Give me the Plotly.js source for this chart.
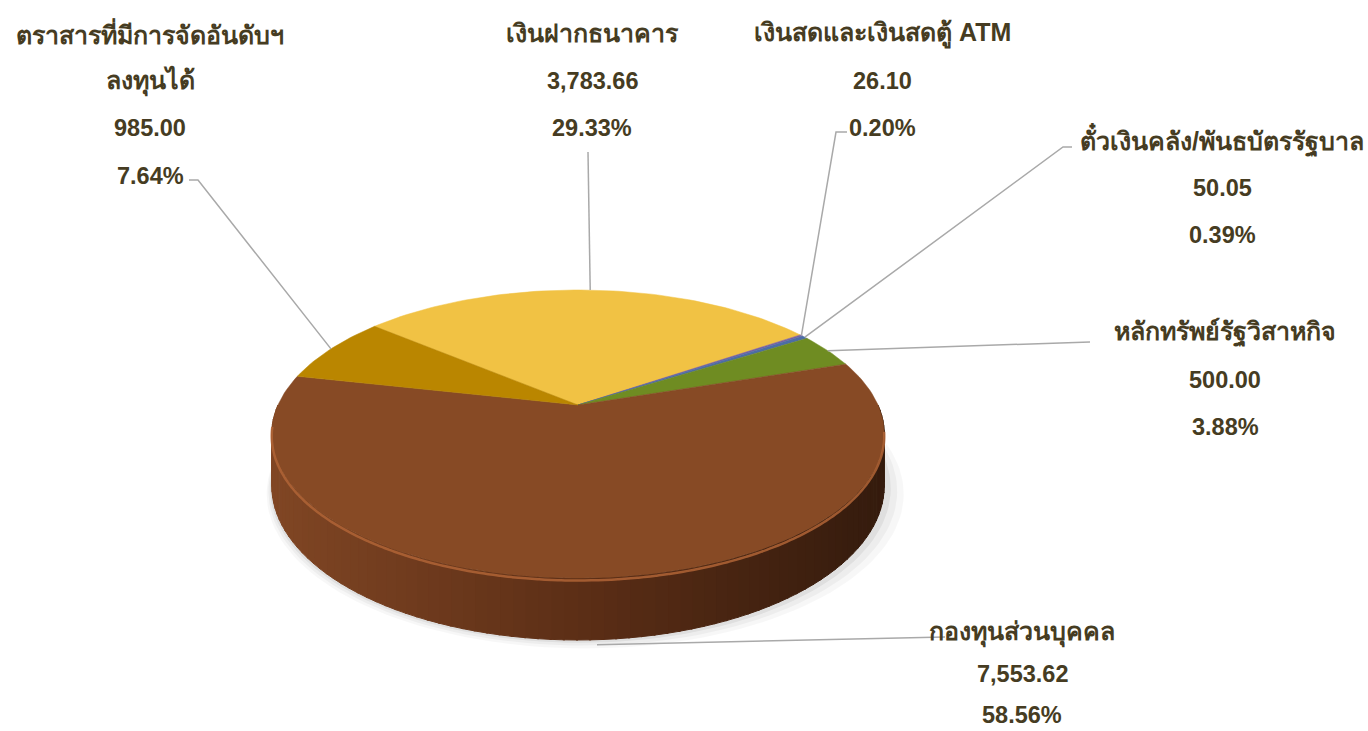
<!DOCTYPE html>
<html>
<head>
<meta charset="utf-8">
<script src="https://cdn.plot.ly/plotly-3.0.1.min.js"></script>
<style>
html,body{margin:0;padding:0;background:#ffffff;}
#chart{width:1368px;height:731px;}
</style>
</head>
<body>
<div id="chart"></div>
<script>
// ---------- DATA ----------
const categories = [
  'เงินฝากธนาคาร',
  'เงินสดและเงินสดตู้ ATM',
  'ตั๋วเงินคลัง/พันธบัตรรัฐบาล',
  'หลักทรัพย์รัฐวิสาหกิจ',
  'กองทุนส่วนบุคคล',
  'ตราสารที่มีการจัดอันดับฯ ลงทุนได้'
];
const nameLines = [
  ['เงินฝากธนาคาร'],
  ['เงินสดและเงินสดตู้ ATM'],
  ['ตั๋วเงินคลัง/พันธบัตรรัฐบาล'],
  ['หลักทรัพย์รัฐวิสาหกิจ'],
  ['กองทุนส่วนบุคคล'],
  ['ตราสารที่มีการจัดอันดับฯ', 'ลงทุนได้']
];
const values = [3783.66, 26.10, 50.05, 500.00, 7553.62, 985.00];

// ---------- STYLE / LAYOUT ----------
const sliceColors = ['#F1C244', '#7A62A0', '#4D6DA6', '#6F8C22', '#874A25', '#BA8600'];
// label block: centre x, first line y, line gap, text-side leader anchor points
const labelPos = [
  {x: 592,  y: 33,  gap: 47.5, lead: [[588, 152]]},
  {x: 882,  y: 33,  gap: 47.5, lead: [[847, 132], [836, 132]]},
  {x: 1222, y: 140, gap: 47.5, lead: [[1072, 147], [1063, 147]]},
  {x: 1225, y: 332, gap: 47.5, lead: [[1090, 342]]},
  {x: 1022, y: 632, gap: 41.5, lead: [[945, 637]]},
  {x: 150,  y: 33,  gap: 47.5, lead: [[189, 180], [198, 180]]}
];
const textColor = '#463C22';
const fontFam = '"Liberation Sans", Arial, "DejaVu Sans", "Noto Sans", sans-serif';
const nameSize = 25, numSize = 23.5;

// pie geometry (pixel space)
const CX = 578, CY = 405, A = 300, B = 138.2, K = 0.2013, DZ = 49.5, START = -50;

function proj(theta, depth) {
  const r = theta * Math.PI / 180;
  const u = Math.sin(r), v = Math.cos(r);
  const w = 1 + K * v;
  return [CX + A * u / w, CY - B * v / w + depth * DZ / w];
}
function arc(t0, t1, depth, n) {
  const pts = [];
  for (let i = 0; i <= n; i++) pts.push(proj(t0 + (t1 - t0) * i / n, depth));
  return pts;
}

const total = values.reduce((a, b) => a + b, 0);
const angles = [];
let acc = START;
values.forEach(v => {
  const span = v / total * 360;
  angles.push([acc, acc + span]);
  acc += span;
});

const traces = [];
function poly(pts, color, extra) {
  traces.push(Object.assign({
    type: 'scatter', mode: 'lines',
    x: pts.map(p => p[0]), y: pts.map(p => p[1]),
    fill: 'toself', fillcolor: color,
    line: {color: color, width: 1},
    hoverinfo: 'skip', showlegend: false
  }, extra || {}));
}

// soft shadow under the disc
[[12, 0.03], [8, 0.04], [4, 0.06]].forEach(([g, a]) => {
  const pts = arc(0, 360, 1, 180).map(p => [p[0] + (p[0] - CX) * g / 300 + g * 0.6, p[1] + g * 0.7]);
  poly(pts, 'rgba(0,0,0,' + a + ')', {line: {width: 0, color: 'rgba(0,0,0,0)'}});
});

// side wall (front half only) with horizontal shading
function lerp(a, b, t) { return Math.round(a + (b - a) * t); }
const cLeft = [128, 70, 36], cMid = [92, 46, 22], cRight = [52, 27, 13];
angles.forEach(([t0, t1], i) => {
  const a0 = Math.max(t0, 90), a1 = Math.min(t1, 270);
  if (a1 <= a0) return;
  const n = Math.ceil((a1 - a0) / 2);
  for (let s = 0; s < n; s++) {
    const s0 = a0 + (a1 - a0) * s / n, s1 = Math.min(a1, a0 + (a1 - a0) * (s + 1) / n + 0.3);
    const top = arc(s0, s1, 0, 2);
    const bot = arc(s0, s1, 1, 2).reverse();
    const xm = proj((s0 + s1) / 2, 0)[0];
    let tt = (xm - (CX - A * 1.02)) / (2 * A * 1.02);
    tt = Math.min(1, Math.max(0, tt));
    let c;
    if (tt < 0.5) { const q = tt / 0.5; c = [0, 1, 2].map(k => lerp(cLeft[k], cMid[k], q)); }
    else { const q = (tt - 0.5) / 0.5; c = [0, 1, 2].map(k => lerp(cMid[k], cRight[k], q)); }
    poly(top.concat(bot), 'rgb(' + c.join(',') + ')');
  }
});

// top faces
angles.forEach(([t0, t1], i) => {
  const n = Math.max(2, Math.ceil((t1 - t0) / 1.5));
  const pts = [[CX, CY]].concat(arc(t0, t1, 0, n));
  pts.push([CX, CY]);
  poly(pts, sliceColors[i], {line: {color: sliceColors[i], width: 0.5}});
});

// bevel highlight along the front rim
{
  const pts = arc(100, 262, 0.04, 160);
  traces.push({type: 'scatter', mode: 'lines', x: pts.map(p => p[0]), y: pts.map(p => p[1]),
    line: {color: 'rgba(176,100,54,0.85)', width: 2.5, shape: 'spline'}, hoverinfo: 'skip', showlegend: false});
}

// leader lines
angles.forEach(([t0, t1], i) => {
  const mid = (t0 + t1) / 2;
  const frontVisible = (mid > 90 && mid < 270);
  const end = proj(mid, frontVisible ? 1.08 : 0);
  const pts = labelPos[i].lead.concat([end]);
  traces.push({type: 'scatter', mode: 'lines', x: pts.map(p => p[0]), y: pts.map(p => p[1]),
    line: {color: '#A9A9A9', width: 1.5}, hoverinfo: 'skip', showlegend: false});
});

// labels
const annotations = [];
values.forEach((val, i) => {
  const names = nameLines[i];
  const lines = names.concat([
    val.toLocaleString('en-US', {minimumFractionDigits: 2, maximumFractionDigits: 2}),
    (val / total * 100).toFixed(2) + '%'
  ]);
  lines.forEach((t, j) => {
    annotations.push({
      x: labelPos[i].x, y: labelPos[i].y + j * labelPos[i].gap, xref: 'x', yref: 'y',
      text: t, showarrow: false, xanchor: 'center', yanchor: 'middle',
      font: {family: fontFam, size: j < names.length ? nameSize : numSize, color: textColor, weight: 700}
    });
  });
});

const layout = {
  width: 1368, height: 731,
  margin: {l: 0, r: 0, t: 0, b: 0},
  paper_bgcolor: '#ffffff', plot_bgcolor: '#ffffff',
  xaxis: {range: [0, 1368], visible: false, fixedrange: true},
  yaxis: {range: [731, 0], visible: false, fixedrange: true},
  showlegend: false, hovermode: false,
  annotations: annotations
};
Plotly.newPlot('chart', traces, layout, {displayModeBar: false, staticPlot: true});
</script>
</body>
</html>
